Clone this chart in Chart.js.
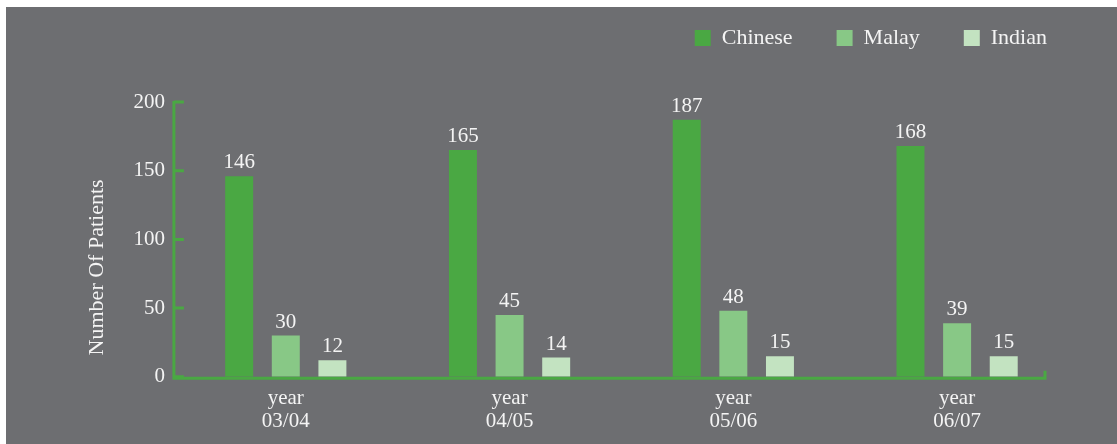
<!DOCTYPE html>
<html>
<head>
<meta charset="utf-8">
<script src="https://cdn.jsdelivr.net/npm/chart.js@4"></script>
<style>
  html, body { margin: 0; padding: 0; background: #ffffff; }
  #wrap { position: absolute; left: 6px; top: 7px; width: 1111px; height: 437px; background: #6d6e71; }
</style>
</head>
<body>
<div id="wrap"><canvas id="myChart"></canvas></div>
<script>
const years = [['year', '03/04'], ['year', '04/05'], ['year', '05/06'], ['year', '06/07']];
const chinese = [146, 165, 187, 168];
const malay = [30, 45, 48, 39];
const indian = [12, 14, 15, 15];
const yTicks = [0, 50, 100, 150, 200];

const green = '#4aa843';
const font = 'Liberation Serif, Times New Roman, serif';

// legend sits high and to the right, plot starts below it
const legendGap = {
  id: 'legendGap',
  beforeInit(chart) {
    const lg = chart.legend;
    const fit = lg.fit;
    lg.fit = function () {
      fit.bind(lg)();
      this.height += 5;
    };
    const draw = lg.draw;
    lg.draw = function () {
      const ctx = chart.ctx;
      ctx.save();
      ctx.translate(22, -38);
      draw.apply(lg, arguments);
      ctx.restore();
    };
  },
  afterLayout(chart) {
    // y title sits a bit below the middle of the axis
    const s = chart.scales.y;
    if (s._moved) return;
    s._moved = true;
    const dt = s.drawTitle;
    s.drawTitle = function () {
      chart.ctx.save();
      chart.ctx.translate(0, 28);
      dt.apply(s, arguments);
      chart.ctx.restore();
    };
  }
};

// value labels, inward y ticks, short x axis line
const extras = {
  id: 'extras',
  afterDatasetsDraw(chart) {
    const ctx = chart.ctx;
    const area = chart.chartArea;
    const y = chart.scales.y;
    ctx.save();
    ctx.fillStyle = '#f4f4f4';
    ctx.font = '21px ' + font;
    ctx.textAlign = 'center';
    ctx.textBaseline = 'bottom';
    chart.data.datasets.forEach((ds, i) => {
      chart.getDatasetMeta(i).data.forEach((bar, j) => {
        ctx.fillText(ds.data[j], bar.x, bar.y - 3);
      });
    });
    ctx.strokeStyle = green;
    ctx.lineWidth = 3;
    ctx.beginPath();
    ctx.moveTo(area.left, area.top - 1);
    ctx.lineTo(area.left, area.bottom + 1.5);
    const xEnd = area.right - 24;
    ctx.lineTo(xEnd, area.bottom + 1.5);
    ctx.lineTo(xEnd, area.bottom - 6);
    yTicks.forEach(v => {
      const py = y.getPixelForValue(v);
      ctx.moveTo(area.left, py);
      ctx.lineTo(area.left + 10, py);
    });
    ctx.stroke();
    ctx.restore();
  }
};

new Chart(document.getElementById('myChart'), {
  type: 'bar',
  data: {
    labels: years,
    datasets: [
      { label: 'Chinese', data: chinese, backgroundColor: green },
      { label: 'Malay', data: malay, backgroundColor: '#88c886' },
      { label: 'Indian', data: indian, backgroundColor: '#c3e3c1' }
    ]
  },
  options: {
    responsive: true,
    maintainAspectRatio: false,
    animation: false,
    layout: { padding: { top: 14, right: 48, left: 78, bottom: 1 } },
    datasets: { bar: { categoryPercentage: 0.625, barPercentage: 0.6 } },
    plugins: {
      tooltip: { enabled: false },
      legend: {
        position: 'top',
        align: 'end',
        labels: {
          color: '#f4f4f4',
          font: { family: font, size: 22 },
          boxWidth: 16,
          boxHeight: 16,
          padding: 44
        }
      }
    },
    scales: {
      x: {
        grid: { display: false, drawTicks: false },
        border: { display: false },
        ticks: { color: '#f4f4f4', font: { family: font, size: 21, lineHeight: 1.1 }, padding: 10, maxRotation: 0 }
      },
      y: {
        min: 0,
        max: 200,
        afterBuildTicks(axis) { axis.ticks = yTicks.map(v => ({ value: v })); },
        grid: { display: false, drawTicks: false },
        border: { display: false },
        ticks: { color: '#f4f4f4', font: { family: font, size: 21 }, padding: 9 },
        title: {
          display: true,
          text: 'Number Of Patients',
          color: '#f4f4f4',
          font: { family: font, size: 22 },
          padding: { top: 0, bottom: 14 }
        }
      }
    }
  },
  plugins: [legendGap, extras]
});
</script>
</body>
</html>
